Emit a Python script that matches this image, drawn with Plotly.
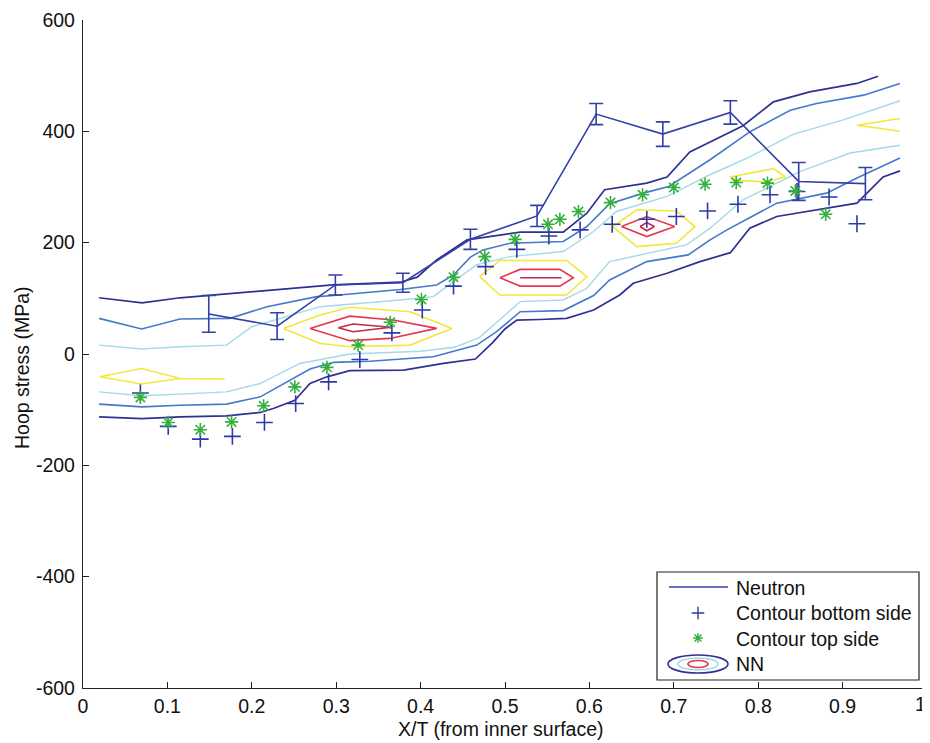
import plotly.graph_objects as go

# ---------------- data ----------------
neutron_x = [0.149, 0.230, 0.299, 0.379, 0.459, 0.538, 0.608, 0.687, 0.767, 0.848, 0.927]
neutron_y = [72, 50, 124, 128, 206, 248, 431, 395, 434, 310, 306]
neutron_err = [33, 24, 18, 17, 18, 19, 19, 22, 21, 34, 29]

bottom_x = [0.068, 0.101, 0.139, 0.177, 0.215, 0.252, 0.291, 0.328, 0.366, 0.402, 0.439, 0.477,
            0.514, 0.552, 0.589, 0.627, 0.668, 0.703, 0.740, 0.776, 0.814, 0.846, 0.884, 0.917]
bottom_y = [-70, -130, -153, -148, -123, -89, -50, -10, 38, 79, 122, 157,
            188, 212, 223, 233, 242, 247, 257, 269, 286, 292, 282, 234]

top_x = [0.068, 0.101, 0.139, 0.176, 0.214, 0.251, 0.289, 0.326, 0.364, 0.401, 0.439, 0.476,
         0.512, 0.551, 0.565, 0.587, 0.625, 0.663, 0.700, 0.737, 0.774, 0.811, 0.844, 0.880]
top_y = [-78, -123, -136, -122, -93, -59, -24, 16, 57, 98, 138, 175,
         206, 233, 242, 256, 272, 286, 299, 305, 308, 307, 293, 251]

# NN contour lines (level 1 = outermost)
l1_top_x = [0.019, 0.070, 0.115, 0.257, 0.296, 0.376, 0.396, 0.419, 0.455, 0.518, 0.569, 0.597,
            0.618, 0.668, 0.692, 0.719, 0.782, 0.818, 0.861, 0.917, 0.942]
l1_top_y = [101, 92, 101, 119, 124, 129, 138, 169, 205, 219, 219, 253,
            295, 307, 318, 363, 410, 453, 471, 486, 499]
l1_bot_x = [0.019, 0.0695, 0.115, 0.170, 0.210, 0.2255, 0.251, 0.269, 0.289, 0.316, 0.380, 0.427,
            0.465, 0.485, 0.500, 0.514, 0.541, 0.573, 0.605, 0.636, 0.652, 0.692, 0.731, 0.767,
            0.790, 0.822, 0.917, 0.948, 0.968]
l1_bot_y = [-113, -116, -113, -111, -105, -98, -83, -53, -41, -30, -29, -17,
            -9, 20, 45, 61, 62, 64, 79, 106, 127, 145, 166, 182,
            226, 247, 271, 318, 329]

l2_top_x = [0.019, 0.0695, 0.115, 0.174, 0.218, 0.277, 0.297, 0.376, 0.419, 0.439, 0.459, 0.474,
            0.506, 0.569, 0.597, 0.624, 0.664, 0.694, 0.743, 0.790, 0.838, 0.869, 0.925, 0.968]
l2_top_y = [64, 45, 63, 64, 85, 103, 105, 116, 124, 142, 174, 187,
            199, 202, 229, 270, 289, 301, 349, 399, 438, 450, 465, 486]
l2_bot_x = [0.019, 0.0695, 0.115, 0.170, 0.210, 0.249, 0.269, 0.297, 0.340, 0.415, 0.4665, 0.490,
            0.518, 0.569, 0.605, 0.624, 0.668, 0.717, 0.743, 0.763, 0.822, 0.881, 0.917, 0.968]
l2_bot_y = [-90, -95, -92, -90, -77, -44, -27, -15, -13, -5, 16, 40,
            76, 78, 105, 133, 166, 178, 205, 223, 271, 289, 316, 352]

l3_top_x = [0.019, 0.0695, 0.115, 0.170, 0.200, 0.237, 0.281, 0.376, 0.415, 0.431, 0.466, 0.506,
            0.569, 0.605, 0.632, 0.692, 0.743, 0.790, 0.842, 0.900, 0.968]
l3_top_y = [16, 9, 13, 16, 49, 66, 85, 97, 103, 121, 160, 175,
            184, 220, 256, 283, 322, 354, 395, 420, 455]
l3_bot_x = [0.019, 0.0695, 0.115, 0.170, 0.210, 0.257, 0.316, 0.400, 0.440, 0.470, 0.500, 0.518,
            0.569, 0.597, 0.624, 0.715, 0.743, 0.782, 0.850, 0.909, 0.968]
l3_bot_y = [-68, -75, -72, -68, -53, -17, 0, 5, 12, 30, 70, 94,
            97, 118, 166, 196, 226, 277, 328, 361, 375]

# yellow (level 4) pieces
y4_a_x = [0.168, 0.115, 0.0695, 0.020, 0.0695, 0.115]
y4_a_y = [-45, -44, -26, -41, -54, -44]
y4_b_x = [0.2375, 0.281, 0.316, 0.3875, 0.437, 0.3875, 0.316, 0.281, 0.2375]
y4_b_y = [46, 70, 84, 76, 46, 16, 13, 19, 46]
y4_c_x = [0.470, 0.494, 0.573, 0.597, 0.573, 0.494, 0.470]
y4_c_y = [139, 168, 168, 139, 106, 106, 139]
y4_d_x = [0.628, 0.656, 0.703, 0.725, 0.703, 0.656, 0.628]
y4_d_y = [229, 259, 257, 229, 199, 193, 229]
y4_e_x = [0.7666, 0.818, 0.832, 0.810, 0.775, 0.7666]
y4_e_y = [318, 333, 318, 309, 312, 318]
y4_f_x = [0.968, 0.917, 0.968]
y4_f_y = [423, 411, 400]

# red (level 5) pieces
r5_a_x = [0.269, 0.316, 0.3676, 0.419, 0.3637, 0.316, 0.269]
r5_a_y = [46, 68, 61, 46, 28, 24, 46]
r5_b_x = [0.494, 0.518, 0.565, 0.581, 0.565, 0.518, 0.494]
r5_b_y = [137, 152, 152, 137, 122, 122, 137]
r5_c_x = [0.638, 0.668, 0.701, 0.668, 0.638]
r5_c_y = [229, 247, 229, 211, 229]

# inner (level 6) pieces
r6_a_x = [0.3025, 0.320, 0.365, 0.320, 0.3025]
r6_a_y = [47, 54, 48, 40, 47]
r6_b_x = [0.518, 0.567]
r6_b_y = [137, 137]
r6_c_x = [0.660, 0.668, 0.677, 0.668, 0.660]
r6_c_y = [229, 236, 229, 221.5, 229]

x_ticks = [0, 0.1, 0.2, 0.3, 0.4, 0.5, 0.6, 0.7, 0.8, 0.9, 1]
x_tick_text = ["0", "0.1", "0.2", "0.3", "0.4", "0.5", "0.6", "0.7", "0.8", "0.9", "1"]
y_ticks = [-600, -400, -200, 0, 200, 400, 600]
y_tick_text = ["-600", "-400", "-200", "0", "200", "400", "600"]

legend_labels = ["Neutron", "Contour bottom side", "Contour top side", "NN"]

# ---------------- styles ----------------
C1 = "#2e3192"
C2 = "#4479cc"
C3 = "#a3d9e8"
C4 = "#f2e73a"
C5 = "#e63750"
C6 = "#c02a45"
NEU = "#3340a6"
PLUS = "#2b3aa8"
STAR = "#34b03c"
FONT = "Liberation Sans, Arial, sans-serif"
FS = 19.5

fig = go.Figure()

def cline(xs, ys, color, width=1.5):
    fig.add_trace(go.Scatter(x=xs, y=ys, mode="lines", line=dict(color=color, width=width),
                             showlegend=False, hoverinfo="skip"))

for xs, ys in [(l3_top_x, l3_top_y), (l3_bot_x, l3_bot_y)]:
    cline(xs, ys, C3, 1.4)
for xs, ys in [(l2_top_x, l2_top_y), (l2_bot_x, l2_bot_y)]:
    cline(xs, ys, C2, 1.6)
for xs, ys in [(l1_top_x, l1_top_y), (l1_bot_x, l1_bot_y)]:
    cline(xs, ys, C1, 1.7)
for xs, ys in [(y4_a_x, y4_a_y), (y4_b_x, y4_b_y), (y4_c_x, y4_c_y), (y4_d_x, y4_d_y),
               (y4_e_x, y4_e_y), (y4_f_x, y4_f_y)]:
    cline(xs, ys, C4, 1.6)
for xs, ys in [(r5_a_x, r5_a_y), (r5_b_x, r5_b_y), (r5_c_x, r5_c_y)]:
    cline(xs, ys, C5, 1.6)
for xs, ys in [(r6_a_x, r6_a_y), (r6_b_x, r6_b_y), (r6_c_x, r6_c_y)]:
    cline(xs, ys, C6, 1.6)

# neutron with error bars
fig.add_trace(go.Scatter(x=neutron_x, y=neutron_y, mode="lines",
                         line=dict(color=NEU, width=1.6),
                         error_y=dict(type="data", array=neutron_err, visible=True,
                                      color=NEU, thickness=1.6, width=7),
                         showlegend=False))
# markers
fig.add_trace(go.Scatter(x=bottom_x, y=bottom_y, mode="markers",
                         marker=dict(symbol="cross-thin", size=12, line=dict(color=PLUS, width=1.6)),
                         showlegend=False))
fig.add_trace(go.Scatter(x=top_x, y=top_y, mode="markers",
                         marker=dict(symbol="asterisk", size=11, line=dict(color=STAR, width=1.6)),
                         showlegend=False))

# ---------------- layout geometry (screen pixels; page body has an 8px margin) ----------------
OFF = 8
L, R, T, B = 83, 927, 20, 688      # plot area on screen
W, H = 930 - OFF, 743 - OFF        # figure size
def px(x):
    return (x - L) / (R - L)
def py(y):
    return (B - y) / (B - T)

shapes = []
shapes.append(dict(type="rect", xref="paper", yref="paper",
                   x0=px(657), x1=px(919), y0=py(680), y1=py(572),
                   line=dict(color="#222", width=1.2), fillcolor="white", layer="below"))
shapes.append(dict(type="line", xref="paper", yref="paper",
                   x0=px(669), x1=px(728), y0=py(587), y1=py(587),
                   line=dict(color=NEU, width=1.5), layer="above"))
for (rx, ry, col) in [(30, 9, C1), (20, 6, C3), (10, 3.5, C5)]:
    shapes.append(dict(type="circle", xref="paper", yref="paper",
                       x0=px(698 - rx), x1=px(698 + rx), y0=py(664 + ry), y1=py(664 - ry),
                       line=dict(color=col, width=1.6), layer="above"))

fig.add_trace(go.Scatter(x=[px(698)], y=[py(613)], xaxis="x2", yaxis="y2", mode="markers",
                         marker=dict(symbol="cross-thin", size=9, line=dict(color=PLUS, width=1.4)),
                         showlegend=False, hoverinfo="skip"))
fig.add_trace(go.Scatter(x=[px(698)], y=[py(638)], xaxis="x2", yaxis="y2", mode="markers",
                         marker=dict(symbol="asterisk", size=8, line=dict(color=STAR, width=1.4)),
                         showlegend=False, hoverinfo="skip"))

annotations = []
for lab, yy in zip(legend_labels, [588, 613, 639, 664]):
    annotations.append(dict(text=lab, xref="paper", yref="paper", x=px(734), y=py(yy),
                            xanchor="left", yanchor="middle", showarrow=False,
                            font=dict(family=FONT, size=FS, color="#111")))
annotations.append(dict(text="X/T (from inner surface)", xref="paper", yref="paper",
                        x=px(501), y=py(729), xanchor="center", yanchor="middle",
                        showarrow=False, font=dict(family=FONT, size=FS, color="#111")))
annotations.append(dict(text="Hoop stress (MPa)", xref="paper", yref="paper",
                        x=px(22), y=py(368), xanchor="center", yanchor="middle", textangle=-90,
                        showarrow=False, font=dict(family=FONT, size=FS, color="#111")))
# last x tick label placed inside the page so it is not clipped at the right edge
annotations.append(dict(text=x_tick_text[-1], xref="paper", yref="paper",
                        x=px(928), y=py(704), xanchor="right", yanchor="middle",
                        showarrow=False, font=dict(family=FONT, size=FS, color="#111")))
shown_x_text = x_tick_text[:-1] + [""]

fig.update_layout(
    width=W, height=H,
    margin=dict(l=L - OFF, r=W + OFF - R, t=T - OFF, b=H + OFF - B, autoexpand=False),
    paper_bgcolor="white", plot_bgcolor="white",
    font=dict(family=FONT, size=FS, color="#111"),
    showlegend=False,
    shapes=shapes, annotations=annotations,
    xaxis=dict(range=[0, 1], tickvals=x_ticks, ticktext=shown_x_text, automargin=False,
               showline=True, linecolor="#222", linewidth=1.3, mirror=False,
               ticks="inside", ticklen=6, tickcolor="#222", showgrid=False, zeroline=False,
               tickfont=dict(family=FONT, size=FS, color="#111")),
    yaxis=dict(range=[-600, 600], tickvals=y_ticks, ticktext=y_tick_text, automargin=False,
               showline=True, linecolor="#222", linewidth=1.3, mirror=False,
               ticks="inside", ticklen=6, tickcolor="#222", showgrid=False, zeroline=False,
               ticklabelstandoff=3, ticklabeloverflow="allow",
               tickfont=dict(family=FONT, size=FS, color="#111")),
    xaxis2=dict(range=[0, 1], overlaying="x", anchor="y2", visible=False, fixedrange=True),
    yaxis2=dict(range=[0, 1], overlaying="y", anchor="x2", visible=False, fixedrange=True),
)

fig.write_html("out.html")
